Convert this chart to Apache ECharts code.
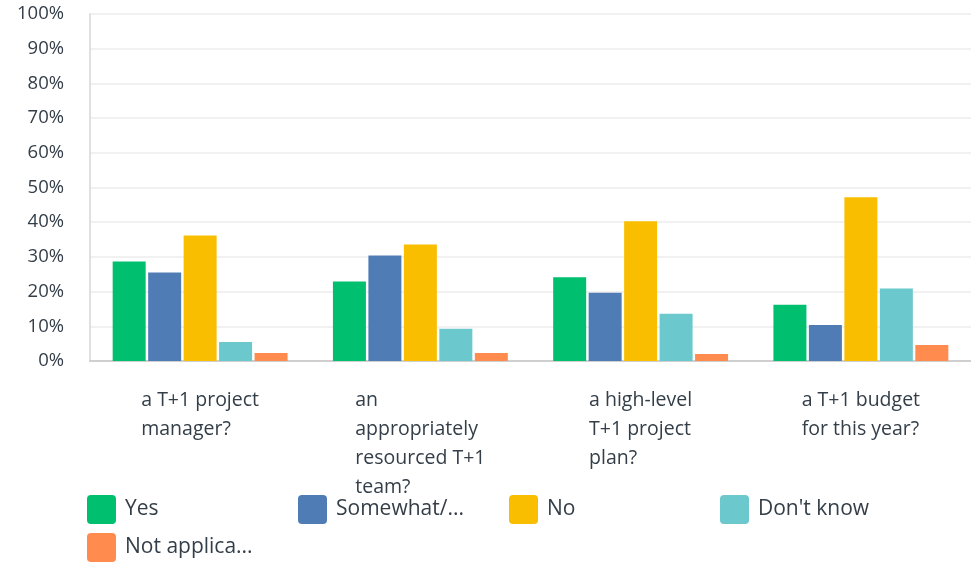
<!DOCTYPE html>
<html>
<head>
<meta charset="utf-8">
<script src="https://cdn.jsdelivr.net/npm/echarts@6/dist/echarts.min.js"></script>
<style>
  html, body { margin: 0; padding: 0; background: #ffffff; }
  #chart { width: 971px; height: 562px; }
</style>
</head>
<body>
<div id="chart"></div>
<script>
// Survey questions (x-axis categories)
const categories = [
  'a T+1 project\nmanager?',
  'an\nappropriately\nresourced T+1\nteam?',
  'a high-level\nT+1 project\nplan?',
  'a T+1 budget\nfor this year?'
];

// Y-axis tick values (percent)
const yTicks = [0, 10, 20, 30, 40, 50, 60, 70, 80, 90, 100];

// Answer share per question, in percent
const yesValues        = [28.7, 22.9, 24.1, 16.2];
const somewhatValues   = [25.5, 30.4, 19.7, 10.4];
const noValues         = [36.2, 33.6, 40.3, 47.2];
const dontKnowValues   = [5.5, 9.3, 13.6, 20.9];
const notApplicValues  = [2.3, 2.3, 2.0, 4.6];

const seriesNames = ['Yes', 'Somewhat/...', 'No', "Don't know", 'Not applica...'];
const seriesValues = [yesValues, somewhatValues, noValues, dontKnowValues, notApplicValues];
const seriesColors = ['#00BF6F', '#507CB6', '#F9BE00', '#6BC8CD', '#FF8B4F'];

const FONT = '"Open Sans", "DejaVu Sans", sans-serif';
const TEXT_COLOR = '#333e48';

const chart = echarts.init(document.getElementById('chart'), null, { renderer: 'canvas' });

const roundSquare = 'path://M4,0H25A4,4 0 0 1 29,4V25A4,4 0 0 1 25,29H4A4,4 0 0 1 0,25V4A4,4 0 0 1 4,0Z';

// One legend block per series, laid out in a 4-column grid below the plot
const LEGEND_COLS = 4;
const legends = seriesNames.map(function (name, i) {
  const col = i % LEGEND_COLS;
  const row = Math.floor(i / LEGEND_COLS);
  return {
    data: [name],
    left: 87 + 211 * col,
    top: 495 + 38 * row,
    orient: 'horizontal',
    itemWidth: 29,
    itemHeight: 29,
    icon: roundSquare,
    padding: 0,
    textStyle: {
      fontFamily: FONT,
      fontSize: 21,
      color: TEXT_COLOR,
      padding: [7, 0, 0, 4]
    },
    selectedMode: false
  };
});

const option = {
  backgroundColor: '#ffffff',
  animation: false,
  grid: {
    left: 90,
    top: 14,
    width: 889,
    height: 347,
    containLabel: false
  },
  legend: legends,
  xAxis: {
    type: 'category',
    data: categories,
    axisTick: { show: false },
    axisLine: { show: true, lineStyle: { color: '#cfcfcf', width: 2 } },
    axisLabel: {
      interval: 0,
      margin: 25,
      formatter: function (value) {
        return value.split('\n').map(function (line) { return '{q|' + line + '}'; }).join('\n');
      },
      rich: {
        q: {
          fontFamily: FONT,
          fontSize: 19.5,
          color: TEXT_COLOR,
          lineHeight: 29,
          align: 'left'
        }
      }
    }
  },
  yAxis: {
    type: 'value',
    min: yTicks[0],
    max: yTicks[yTicks.length - 1],
    interval: yTicks[1] - yTicks[0],
    axisLine: { show: true, lineStyle: { color: '#d6d6d6', width: 1.5 } },
    axisTick: { show: false },
    splitLine: { show: true, lineStyle: { color: '#ececec', width: 1.5 } },
    axisLabel: {
      margin: 26,
      fontFamily: FONT,
      fontSize: 18.5,
      color: TEXT_COLOR,
      formatter: '{value}%'
    }
  },
  series: seriesNames.map(function (name, i) {
    return {
      name: name,
      type: 'bar',
      data: seriesValues[i],
      barWidth: 33,
      barGap: '7.5%',
      itemStyle: { color: seriesColors[i] }
    };
  })
};

chart.setOption(option);
</script>
</body>
</html>
